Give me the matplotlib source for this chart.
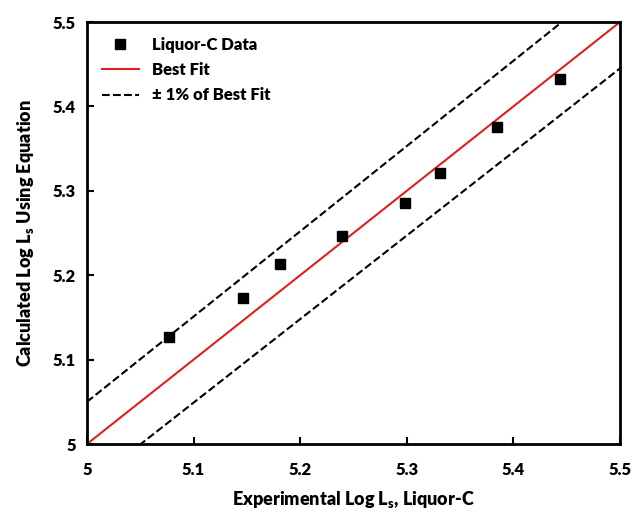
import numpy as np
import matplotlib
matplotlib.use('Agg')
import matplotlib.pyplot as plt

# datos
exp_x = [5.077, 5.146, 5.181, 5.239, 5.298, 5.331, 5.385, 5.444]
calc_y = [5.127, 5.173, 5.213, 5.247, 5.285, 5.321, 5.376, 5.432]
ticks = [5, 5.1, 5.2, 5.3, 5.4, 5.5]
tick_labels = ['5', '5.1', '5.2', '5.3', '5.4', '5.5']
band = 0.01

plt.rcParams['font.family'] = ['Lato', 'DejaVu Sans']
plt.rcParams['font.weight'] = 'heavy'
plt.rcParams['mathtext.fontset'] = 'custom'
plt.rcParams['mathtext.rm'] = 'Lato:heavy'
plt.rcParams['mathtext.it'] = 'Lato:heavy'
plt.rcParams['mathtext.bf'] = 'Lato:heavy'

fig = plt.figure(figsize=(6.33, 5.12), dpi=100)
ax = fig.add_axes([0.1374, 0.1328, 0.842, 0.8242])

xl = np.array([5.0, 5.5])
ax.plot(exp_x, calc_y, 's', color='black', markersize=7.5, label='Liquor-C Data', zorder=3)
ax.plot(xl, xl, '-', color='#e02020', lw=1.5, label='Best Fit')
ax.plot(xl, xl * (1 + band), '--', color='black', lw=1.5, label='± 1% of Best Fit')
ax.plot(xl, xl * (1 - band), '--', color='black', lw=1.5)

ax.set_xlim(5, 5.5)
ax.set_ylim(5, 5.5)
ax.set_xticks(ticks)
ax.set_xticklabels(tick_labels)
ax.set_yticks(ticks)
ax.set_yticklabels(tick_labels)
ax.tick_params(direction='in', length=5, width=1.5, labelsize=12, pad=13)
ax.tick_params(axis='y', pad=8)
for s in ax.spines.values():
    s.set_linewidth(2)

ax.set_xlabel('Experimental Log L$_{\\mathrm{s}}$, Liquor-C', fontsize=13, fontweight='heavy', labelpad=8)
ax.set_ylabel('Calculated Log L$_{\\mathrm{s}}$ Using Equation', fontsize=13, fontweight='heavy', labelpad=12)

ax.legend(loc='upper left', frameon=False, prop={'size': 12, 'weight': 'heavy'},
          handlelength=2.2, borderaxespad=0.5, labelspacing=0.55)

fig.savefig('out.png', dpi=100)
